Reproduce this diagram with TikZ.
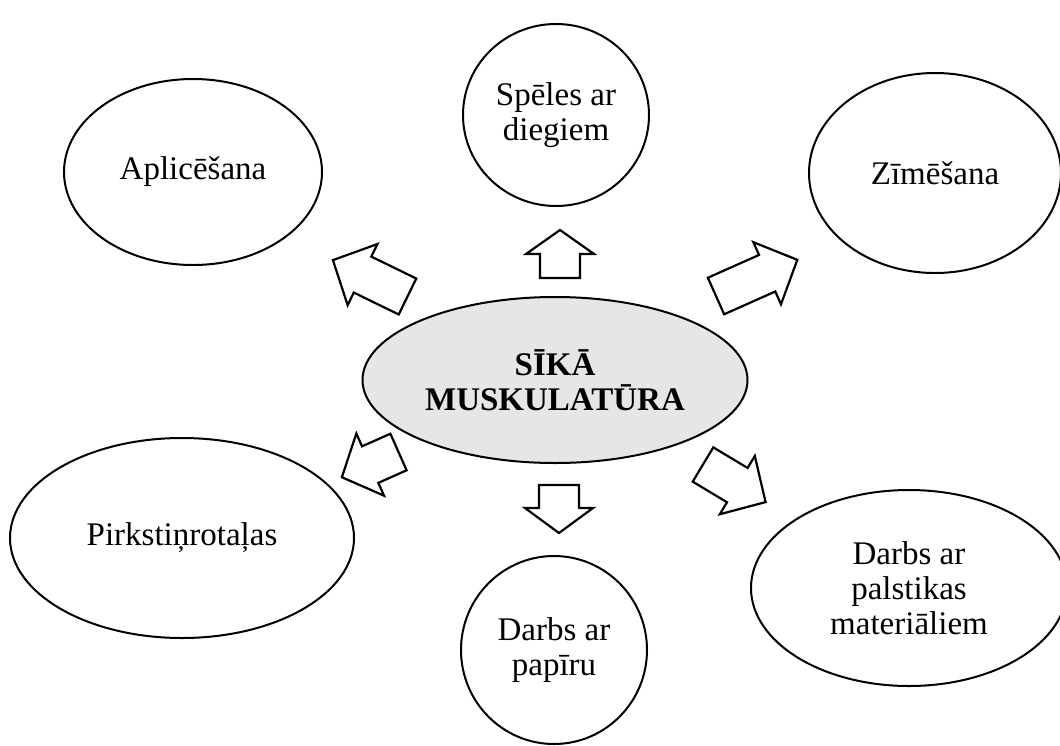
\documentclass[tikz,border=0pt]{standalone}
\usepackage{fontspec}
\setmainfont{Liberation Serif}
\usetikzlibrary{shapes.geometric}
\definecolor{centerfill}{RGB}{231,230,230}
\tikzset{
  bub/.style={ellipse, draw=black, line width=2pt, inner sep=0pt, align=center,
    fill=white, font=\fontsize{33}{35}\selectfont},
  arrline/.style={draw=black, fill=white, line width=2.2pt, line join=miter},
  pics/barrow/.style 2 args={code={
    \draw[arrline] (0,-20) -- ({#1-#2},-20) -- ({#1-#2},-34) -- (#1,0)
      -- ({#1-#2},34) -- ({#1-#2},20) -- (0,20) -- cycle;}}
}
\begin{document}
\begin{tikzpicture}[x=1pt,y=-1pt]
\useasboundingbox (0,0) rectangle (1060,745);
% outer bubbles
\node[bub, minimum width=258, minimum height=186] (apl) at (193,172) {Aplicēšana};
\node[bub, minimum width=186, minimum height=182] (spe) at (556,115) {Spēles ar\\diegiem};
\node[bub, minimum width=252, minimum height=200] (zim) at (935,173) {Zīmēšana};
\node[bub, minimum width=344, minimum height=200] (pir) at (182,538) {Pirkstiņrotaļas};
\node[bub, minimum width=186, minimum height=188] (pap) at (554,650) {Darbs ar\\papīru};
\node[bub, minimum width=316, minimum height=196] (pla) at (909,588) {Darbs ar\\palstikas\\materiāliem};
% centre
\node[bub, fill=centerfill, minimum width=385, minimum height=166,
  font=\fontsize{33}{35}\selectfont\bfseries] (cen) at (555,380) {SĪKĀ\\MUSKULATŪRA};
% block arrows
\pic[rotate=154] at (407.5,296.5) {barrow={83}{33}};
\pic[rotate=90] at (560,278) {barrow={48}{24}};
\pic[rotate=24] at (716,296) {barrow={89}{33}};
\pic[rotate=204] at (398.5,452) {barrow={62}{31}};
\pic[rotate=270] at (559,485) {barrow={48}{25}};
\pic[rotate=-31] at (703,464.5) {barrow={73}{33}};
\end{tikzpicture}
\end{document}
